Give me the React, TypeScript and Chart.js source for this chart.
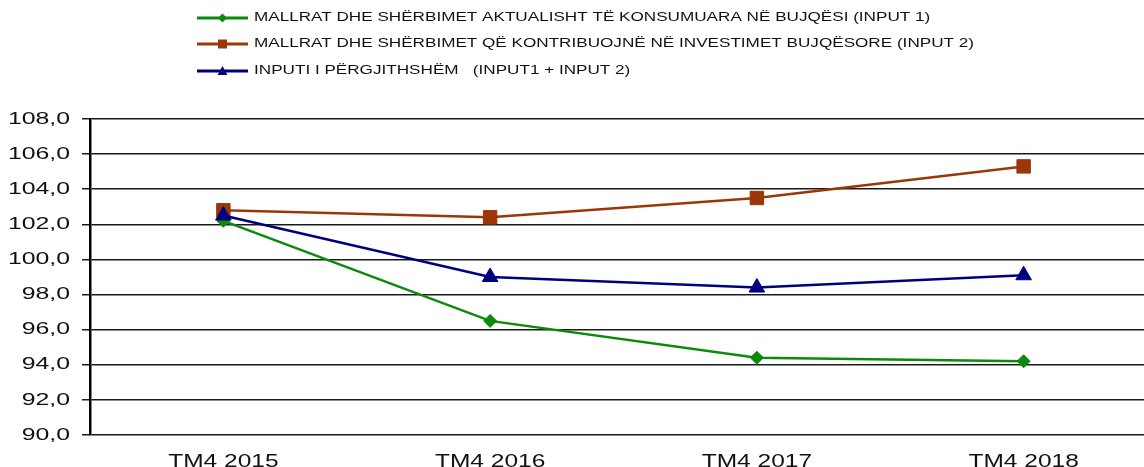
import React, { useEffect, useRef } from 'react';
import { Chart, registerables } from 'chart.js';

Chart.register(...registerables);

// ---- data ----
const categories = ['TM4 2015', 'TM4 2016', 'TM4 2017', 'TM4 2018'];
const input1 = [102.2, 96.5, 94.4, 94.2];
const input2 = [102.8, 102.4, 103.5, 105.3];
const totalInput = [102.5, 99.0, 98.4, 99.1];
const seriesLabels = [
  'MALLRAT DHE SHËRBIMET AKTUALISHT TË KONSUMUARA NË BUJQËSI (INPUT 1)',
  'MALLRAT DHE SHËRBIMET QË KONTRIBUOJNË NË INVESTIMET BUJQËSORE (INPUT 2)',
  'INPUTI I PËRGJITHSHËM   (INPUT1 + INPUT 2)',
];
const yMin = 90;
const yMax = 108;
const yStep = 2;

const colors = ['#0b8a0b', '#9c360a', '#00007f'];
const markers = ['diamond', 'square', 'triangle'];
const FONT = '"Liberation Sans", Arial, Helvetica, sans-serif';

const formatTick = (v: number) => v.toFixed(1).replace('.', ',');

function drawText(
  ctx: CanvasRenderingContext2D,
  text: string,
  x: number,
  y: number,
  sx: number,
  align: CanvasTextAlign,
  baseline: CanvasTextBaseline,
  font: string
) {
  ctx.save();
  ctx.translate(x, y);
  ctx.scale(sx, 1);
  ctx.font = font;
  ctx.textAlign = align;
  ctx.textBaseline = baseline;
  ctx.fillText(text, 0, 0);
  ctx.restore();
}

function drawMarker(ctx: CanvasRenderingContext2D, kind: string, x: number, y: number, color: string) {
  ctx.save();
  ctx.fillStyle = color;
  ctx.beginPath();
  if (kind === 'diamond') {
    ctx.moveTo(x - 4.5, y);
    ctx.lineTo(x, y - 4.5);
    ctx.lineTo(x + 4.5, y);
    ctx.lineTo(x, y + 4.5);
  } else if (kind === 'square') {
    ctx.rect(x - 4.5, y - 4.5, 9, 9);
  } else {
    ctx.moveTo(x - 5, y + 4);
    ctx.lineTo(x, y - 5);
    ctx.lineTo(x + 5, y + 4);
  }
  ctx.closePath();
  ctx.fill();
  ctx.restore();
}

const Y_TICK_LEN = 8;
const Y_LABEL_PAD = 12;

const textPlugin = {
  id: 'stretchedText',
  afterDraw(chart: any) {
    const ctx: CanvasRenderingContext2D = chart.ctx;
    const ys = chart.scales.y;
    const xs = chart.scales.x;
    ctx.save();
    ctx.fillStyle = '#111111';
    // y tick labels
    ys.ticks.forEach((t: any) => {
      const py = ys.getPixelForValue(t.value);
      drawText(ctx, formatTick(t.value), ys.right - Y_TICK_LEN - Y_LABEL_PAD, py, 1.46, 'right', 'middle', `17px ${FONT}`);
    });
    // x tick labels
    categories.forEach((c, i) => {
      drawText(ctx, c, xs.getPixelForTick(i), xs.top + 31.5, 1.29, 'center', 'alphabetic', `19px ${FONT}`);
    });
    // legend
    const rowsY = [18, 44, 71];
    seriesLabels.forEach((lab, i) => {
      const ry = rowsY[i];
      ctx.save();
      ctx.strokeStyle = colors[i];
      ctx.lineWidth = 3;
      ctx.beginPath();
      ctx.moveTo(197, ry);
      ctx.lineTo(248, ry);
      ctx.stroke();
      ctx.restore();
      drawMarker(ctx, markers[i], 222.5, ry, colors[i]);
      ctx.fillStyle = '#111111';
      drawText(ctx, lab, 254, ry, 1.37, 'left', 'middle', `12.5px ${FONT}`);
    });
    ctx.restore();
  },
};

export default function App() {
  const canvasRef = useRef<HTMLCanvasElement | null>(null);

  useEffect(() => {
    if (!canvasRef.current) return;
    const chart = new Chart(canvasRef.current, {
      type: 'line',
      data: {
        labels: categories,
        datasets: [
          {
            label: seriesLabels[0],
            data: input1,
            borderColor: colors[0],
            backgroundColor: colors[0],
            borderWidth: 2.5,
            pointStyle: 'rectRot',
            pointRadius: 6.5,
            pointBorderWidth: 1,
            tension: 0,
            order: 3,
          },
          {
            label: seriesLabels[1],
            data: input2,
            borderColor: colors[1],
            backgroundColor: colors[1],
            borderWidth: 2.5,
            pointStyle: 'rect',
            pointRadius: 9.5,
            pointBorderWidth: 1,
            tension: 0,
            order: 2,
          },
          {
            label: seriesLabels[2],
            data: totalInput,
            borderColor: colors[2],
            backgroundColor: colors[2],
            borderWidth: 2.5,
            pointStyle: 'triangle',
            pointRadius: 9,
            pointBorderWidth: 1,
            tension: 0,
            order: 1,
          },
        ],
      },
      options: {
        animation: false,
        responsive: true,
        maintainAspectRatio: false,
        layout: { padding: { top: 119, right: 13, left: 0, bottom: 0 } },
        plugins: {
          legend: { display: false },
          tooltip: { enabled: false },
          title: { display: false },
        },
        scales: {
          x: {
            type: 'category',
            offset: true,
            grid: { display: false },
            border: { display: false },
            ticks: { display: false },
            afterFit: (scale: any) => {
              scale.height = 32;
            },
          },
          y: {
            min: yMin,
            max: yMax,
            ticks: { stepSize: yStep, display: false },
            grid: {
              color: '#1a1a1a',
              lineWidth: 1.5,
              tickLength: Y_TICK_LEN,
              drawTicks: true,
            },
            border: { display: true, color: '#000000', width: 2.5 },
            afterFit: (scale: any) => {
              scale.width = 90;
            },
          },
        },
      },
      plugins: [textPlugin],
    });
    return () => chart.destroy();
  }, []);

  return (
    <div style={{ position: 'fixed', left: 0, top: 0, width: 1170, height: 467, background: '#ffffff' }}>
      <canvas ref={canvasRef} />
    </div>
  );
}
